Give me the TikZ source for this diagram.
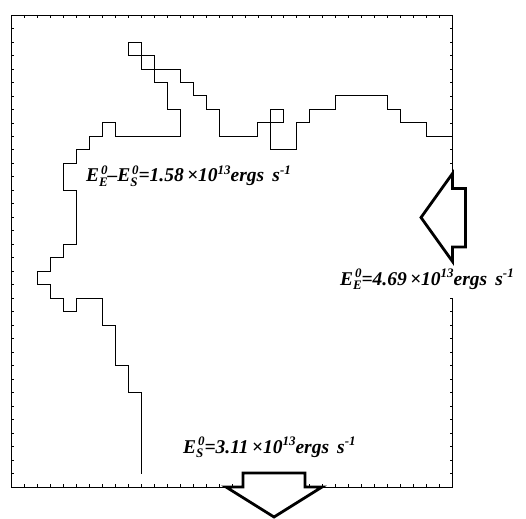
\documentclass[tikz,border=0pt]{standalone}
\usepackage{fontspec}
\setmainfont{Liberation Serif}
% sub- and superscript stacked after a capital E
\newcommand\scr{\fontsize{13}{13}\selectfont}
\newcommand\Es[2]{E{\scr\rlap{\raisebox{-0.32em}{#1}}\hspace{0.14em}\raisebox{0.6em}{#2}}}
\newcommand\up[1]{{\scr\raisebox{0.6em}{#1}}}
\tikzset{
  hist/.style={line width=0.9pt, line join=miter},
  frame/.style={line width=0.9pt},
  tick/.style={line width=0.8pt},
  fluxarrow/.style={line width=2.8pt, line join=miter, fill=white},
  label/.style={font=\fontsize{19.5}{22}\selectfont\bfseries\itshape, inner sep=0pt, anchor=base west}
}
\begin{document}
\begin{tikzpicture}[x=1pt, y=-1pt]
\useasboundingbox (0,0) rectangle (526,518);
% plot box, ticks and boundary, in cell units
\begin{scope}[shift={(11.5,15)}, x=12.97pt, y=-13.49pt]
  \draw[frame] (34,11.75) -- (34,0) -- (0,0) -- (0,35) -- (34,35) -- (34,21);
  \foreach \i in {1,...,33} {
    \draw[tick] (\i,0) -- ++(0,0.22);
    \draw[tick] (\i,35) -- ++(0,-0.22);
  }
  \foreach \j in {1,...,34} {
    \draw[tick] (0,\j) -- ++(0.23,0);
  }
  \foreach \j in {1,...,11,21,22,...,34} {
    \draw[tick] (34,\j) -- ++(-0.23,0);
  }
  \draw[hist] (10,34) -- (10,28) -- (9,28) -- (9,26) -- (8,26) -- (8,23) -- (7,23)
    -- (7,21) -- (5,21) -- (5,22) -- (4,22) -- (4,21) -- (3,21) -- (3,20) -- (2,20)
    -- (2,19) -- (3,19) -- (3,18) -- (4,18) -- (4,17) -- (5,17) -- (5,13) -- (4,13)
    -- (4,11) -- (5,11) -- (5,10) -- (6,10) -- (6,9) -- (7,9) -- (7,8) -- (8,8)
    -- (8,9) -- (13,9) -- (13,7) -- (12,7) -- (12,5) -- (11,5) -- (11,3) -- (10,3)
    -- (10,4) -- (13,4) -- (13,5) -- (14,5) -- (14,6) -- (15,6) -- (15,7) -- (16,7)
    -- (16,9) -- (19,9) -- (19,8) -- (20,8) -- (20,10) -- (22,10) -- (22,8) -- (23,8)
    -- (23,7) -- (25,7) -- (25,6) -- (29,6) -- (29,7) -- (30,7) -- (30,8) -- (32,8)
    -- (32,9) -- (34,9);
  \draw[hist] (9,2) rectangle (10,3);
  \draw[hist] (20,7) rectangle (21,8);
\end{scope}
% labels
\node[label] (diff) at (86,182) {\Es{E}{0}–\Es{S}{0}=1.58\,×10\up{13}ergs\, s\up{-1}};
\node[label] (east) at (340,285) {\Es{E}{0}=4.69\,×10\up{13}ergs\, s\up{-1}};
\node[label] (south) at (183,453) {\Es{S}{0}=3.11\,×10\up{13}ergs\, s\up{-1}};
% flux arrows
\draw[fluxarrow] (452.5,173.5) -- (452.5,188.5) -- (465.5,188.5) -- (465.5,247)
  -- (452.5,247) -- (452.5,261.5) -- (421,217.5) -- cycle;
\draw[fluxarrow] (226,487) -- (243,487) -- (243,473) -- (305,473) -- (305,487)
  -- (322,487) -- (274,517) -- cycle;
\end{tikzpicture}
\end{document}
